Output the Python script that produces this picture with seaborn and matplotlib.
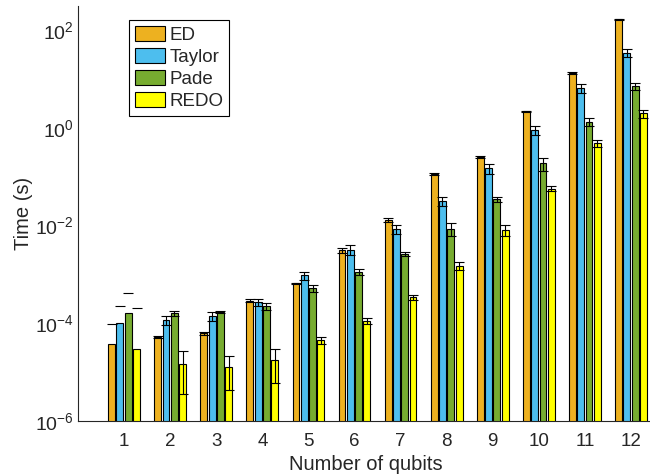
import numpy as np
import pandas as pd
import matplotlib
matplotlib.use("Agg")
import matplotlib.pyplot as plt
from matplotlib.ticker import NullLocator
import seaborn as sns

# Timing results (seconds) per number of qubits
qubits = [1, 2, 3, 4, 5, 6, 7, 8, 9, 10, 11, 12]
methods = ["ED", "Taylor", "Pade", "REDO"]

ed = [3.7e-5, 5.3e-5, 6.3e-5, 2.9e-4, 6.6e-4, 3.1e-3, 1.3e-2, 0.112, 0.254, 2.19, 13.2, 166]
ed_err = [5.9e-5, 3e-6, 4.5e-6, 2e-5, 2e-5, 3.5e-4, 1e-3, 5e-3, 1e-2, 5e-2, 0.4, 3]
taylor = [1.02e-4, 1.17e-4, 1.41e-4, 2.7e-4, 9.5e-4, 3.2e-3, 8.4e-3, 3.1e-2, 0.148, 0.89, 6.6, 34]
taylor_err = [1.22e-4, 2.3e-5, 2.9e-5, 5e-5, 1.9e-4, 7e-4, 1.7e-3, 6.5e-3, 0.035, 0.19, 1.4, 6.5]
pade = [1.63e-4, 1.59e-4, 1.7e-4, 2.2e-4, 5.2e-4, 1.12e-3, 2.6e-3, 8.5e-3, 0.0347, 0.186, 1.32, 7.1]
pade_err = [2.57e-4, 2e-5, 9e-6, 3.5e-5, 8e-5, 1.7e-4, 2e-4, 2.5e-3, 4e-3, 0.053, 0.23, 1.1]
redo = [2.97e-5, 1.5e-5, 1.28e-5, 1.8e-5, 4.5e-5, 1.12e-4, 3.4e-4, 1.5e-3, 8.06e-3, 0.057, 0.478, 1.96]
redo_err = [1.8e-4, 1.15e-5, 8.5e-6, 1.2e-5, 7.5e-6, 1.6e-5, 4.5e-5, 2.5e-4, 2e-3, 7e-3, 0.08, 0.35]

colors = ["#EDB120", "#4DBEEE", "#77AC30", "#FFFF00"]

means = [ed, taylor, pade, redo]
errs = [ed_err, taylor_err, pade_err, redo_err]

df = pd.DataFrame({
    "qubits": np.tile(qubits, len(methods)),
    "method": np.repeat(methods, len(qubits)),
    "time": np.concatenate(means),
})

sns.set_theme(style="white")
plt.rcParams["font.family"] = ["Liberation Sans", "DejaVu Sans"]
plt.rcParams["mathtext.default"] = "regular"
plt.rcParams["axes.unicode_minus"] = False

fig = plt.figure(figsize=(6.5, 4.76), dpi=100)
ax = fig.add_axes([78 / 650, 55 / 476, 576 / 650, 415.5 / 476])

sns.barplot(data=df, x="qubits", y="time", hue="method", hue_order=methods,
            palette=colors, saturation=1, width=0.72, gap=0.17,
            edgecolor="black", linewidth=0.8, errorbar=None, ax=ax)

ax.set_yscale("log")

# Error bars on top of each bar
for cont, m, e in zip(ax.containers, means, errs):
    xs = np.array([p.get_x() + p.get_width() / 2 for p in cont])
    m = np.array(m)
    e = np.array(e)
    ok = (m - e) > 0
    ax.errorbar(xs[ok], m[ok], yerr=e[ok], fmt="none", ecolor="black",
                elinewidth=0.8, capsize=3.6, capthick=0.8, zorder=5)
    # lower bound not positive: only the upper cap is shown on a log axis
    ax.plot(xs[~ok], (m + e)[~ok], ls="none", marker="_", ms=7.2,
            mew=0.8, color="black", zorder=5)

ax.set_ylim(1e-6, 10 ** 2.5)
ax.set_xlim(-1, 11.5)
ax.set_yticks([1e-6, 1e-4, 1e-2, 1, 1e2])
ax.yaxis.set_minor_locator(NullLocator())

for side in ["top", "right"]:
    ax.spines[side].set_visible(False)
for side in ["left", "bottom"]:
    ax.spines[side].set_color("#262626")
    ax.spines[side].set_linewidth(0.8)

ax.tick_params(axis="both", direction="in", length=3.5, width=0.8,
               colors="#262626")
ax.tick_params(axis="x", pad=9, labelsize=13.5)
ax.tick_params(axis="y", pad=3, labelsize=14)

ax.set_xlabel("Number of qubits", fontsize=14.5, color="#262626")
ax.set_ylabel("Time (s)", fontsize=14.5, color="#262626")
ax.xaxis.set_label_coords(0.5, -0.083)
ax.yaxis.set_label_coords(-0.078, 0.5)

leg = ax.legend(loc="upper left", bbox_to_anchor=(129 / 650, 1 - 20 / 476),
                bbox_transform=fig.transFigure, borderaxespad=0, fontsize=13.5,
                frameon=True, fancybox=False, framealpha=1, edgecolor="black",
                handlelength=1.6, handleheight=0.9, handletextpad=0.25,
                labelspacing=0.2, borderpad=0.3)
leg.get_frame().set_linewidth(0.8)
leg.set_title(None)

fig.savefig("out.png", dpi=100)
